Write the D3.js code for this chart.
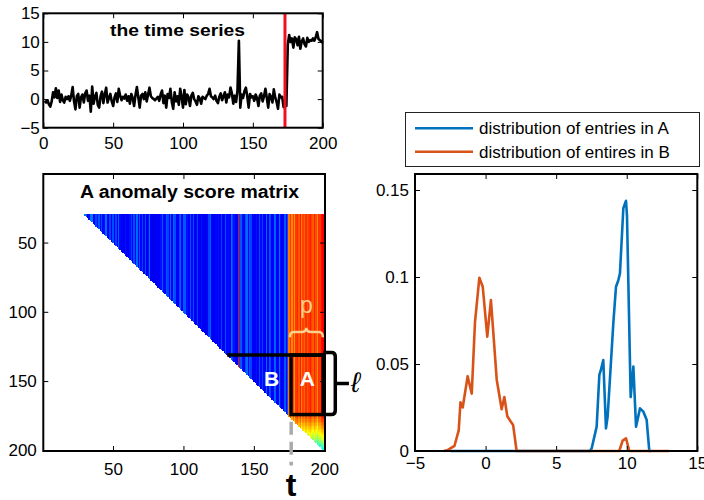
<!DOCTYPE html>
<html><head><meta charset="utf-8">
<script src="https://cdn.jsdelivr.net/npm/d3@7"></script>
<style>
body{margin:0;background:#fff;}
text{font-family:"Liberation Sans",Arial,Helvetica,sans-serif;}
</style></head><body>
<svg id="c" width="704" height="500"></svg>
<script>
// ---------------- data ----------------
const tsValues = [
-0.3,-0.6,-0.2,-0.9,-1.3,-0.4,1.2,0.3,1.9,0.2,
1.5,-0.5,0.8,-0.2,-0.6,0.4,0.0,0.5,-0.3,0.6,
2.1,-0.4,-1.8,0.5,0.9,-1.5,0.3,0.8,-0.6,1.0,
1.5,-0.3,0.6,-2.2,2.2,-0.8,0.4,1.1,-1.0,-1.5,
0.5,1.3,-0.7,0.8,2.0,-0.6,0.2,0.9,-0.4,-1.2,
0.3,1.0,-0.5,1.8,0.6,-0.2,0.4,0.1,0.8,-0.3,
0.5,-0.8,0.9,0.2,-1.2,0.7,2.1,0.3,-1.5,0.6,
0.9,0.0,1.2,-0.4,0.8,2.0,0.5,0.2,0.0,-0.2,
0.1,0.4,-0.3,0.8,1.5,-0.7,0.6,-1.5,0.9,0.2,
1.8,-0.5,-1.7,1.2,-0.4,0.5,-1.0,1.8,0.4,-1.5,
1.6,-0.9,0.8,0.3,-1.2,0.6,1.1,0.0,-0.4,-1.0,
0.5,0.1,-0.8,0.4,0.2,0.0,0.6,0.9,1.8,0.5,
0.3,0.0,0.6,-0.3,-0.7,0.4,1.0,-0.2,0.5,1.2,
-0.6,0.8,0.3,2.0,1.0,-0.8,0.6,-0.5,1.5,10.2,
-1.5,0.8,0.2,1.4,2.0,0.5,-1.5,0.9,0.3,0.5,
-0.3,0.8,0.2,-1.2,0.6,1.0,-0.4,0.5,1.8,0.2,
-1.5,0.9,0.4,-0.6,1.7,0.3,-0.5,-1.7,0.8,0.3,
0.4,-1.4,-0.8,-1.2,9.5,11.2,10.0,10.6,9.0,10.8,
10.5,9.4,10.9,8.8,10.1,10.6,9.6,9.2,10.7,10.0,
10.3,10.2,10.6,10.2,10.8,11.7,10.5,10.3,10.1,9.8
];
const changePoint = 173;
const topXTicks = [0,50,100,150,200];
const topYTicks = [-5,0,5,10,15];

// anomaly score per column (jet colormap position), rows 30..200, upper triangle
const columnScore = [
.14,.12,.19,.13,.22,.12,.20,.13,.23,.12,
.21,.12,.14,.12,.13,.12,.11,.12,.12,.13,
.23,.12,.22,.13,.14,.21,.12,.14,.12,.24,
.21,.12,.13,.24,.24,.13,.12,.19,.14,.21,
.12,.20,.13,.14,.23,.13,.11,.19,.12,.20,
.12,.19,.12,.22,.13,.11,.12,.11,.14,.12,
.12,.14,.19,.11,.20,.13,.23,.12,.21,.13,
.19,.11,.20,.12,.14,.23,.12,.11,.11,.11,
.11,.12,.12,.14,.21,.13,.13,.21,.19,.11,
.22,.12,.22,.20,.12,.12,.19,.22,.12,.21,
.21,.14,.14,.12,.20,.13,.20,.11,.12,.19,
.12,.11,.14,.12,.11,.11,.13,.19,.22,.12,
.12,.11,.13,.12,.14,.12,.19,.11,.12,.20,
.13,.14,.12,.23,.19,.14,.13,.12,.21,.90,
.21,.14,.11,.20,.23,.12,.21,.19,.12,.12,
.12,.14,.11,.20,.13,.19,.12,.12,.22,.11,
.21,.19,.12,.13,.22,.12,.12,.23,.14,.12,
.12,.21,.12,.20,.76,.82,.74,.81,.73,.82,
.84,.79,.85,.75,.81,.78,.83,.79,.82,.85,
.81,.79,.84,.80,.74,.83,.82,.86,.88,.90
];
const firstRow = 30;
const fadeStartRow = 175;
// score scaling for rows 175..200 (reference window contains the shifted data)
const rowFade = [.98,.96,.95,.93,.92,.90,.88,.86,.85,.83,.81,.79,.77,.75,.73,.71,.68,.66,.63,.60,.57,.54,.51,.48,.45,.42];
const heatTicks = [50,100,150,200];

const distAx = [-2.5,7.4,7.52,7.87,8.06,8.15,8.34,8.53,8.65,9.05,9.24,9.4,9.52,9.76,9.95,10.02,10.28,10.47,10.66,10.94,11.18,11.41,11.6,11.7];
const distAy = [0,0,0.0016,0.014,0.0437,0.046,0.0523,0.013,0.02,0.0734,0.0944,0.098,0.102,0.1395,0.1438,0.135,0.031,0.0485,0.014,0.0245,0.0226,0.018,0,0];
const distBx = [-2.95,-2.67,-2.2,-1.9,-1.78,-1.62,-1.27,-0.98,-0.75,-0.44,-0.2,0.12,0.38,0.79,1.14,1.33,1.54,1.78,1.95,2.2,9.47,9.71,9.95,10.18,13.0];
const distBy = [0,0.0006,0.003,0.012,0.028,0.025,0.043,0.033,0.074,0.0996,0.0944,0.0657,0.0868,0.041,0.024,0.031,0.02,0.017,0.015,0,0,0.006,0.0073,0,0];
const distXTicks = [-5,0,5,10,15];
const distYTicks = [0,0.05,0.1,0.15];
const legendLabels = ["distribution of entries in A","distribution of entires in B"];
const colA = "#0072BD", colB = "#D95319";

// annotation anchors (data units of the score matrix)
const tMark = 176.5, boxCol0 = 176.4, boxCol1 = 199.2, boxRow0 = 131.2, boxRow1 = 174.2, diagCol = 131;

// ---------------- drawing ----------------
const svg = d3.select("#c");
const FS = 17;

function frame(g, x, y, xt, yt, fx, fy, padX, padY){
  const xb = d3.axisBottom(x).tickValues(xt).tickSize(-5).tickSizeOuter(0).tickPadding(padX).tickFormat(fx);
  const xtp = d3.axisTop(x).tickValues(xt).tickSize(-5).tickSizeOuter(0).tickFormat("");
  const yl = d3.axisLeft(y).tickValues(yt).tickSize(-5).tickSizeOuter(0).tickPadding(padY).tickFormat(fy);
  const yr = d3.axisRight(y).tickValues(yt).tickSize(-5).tickSizeOuter(0).tickFormat("");
  const x0 = d3.min(x.range()), x1 = d3.max(x.range());
  const yTop = d3.min(y.range()), yBot = d3.max(y.range());
  const add = (ax, tr) => {
    const a = g.append("g").attr("transform", tr).call(ax);
    a.select(".domain").remove();
    a.selectAll("line").attr("stroke","#000").attr("stroke-width",1);
    a.selectAll("text").attr("font-size",FS).attr("fill","#000");
    return a;
  };
  add(xb, `translate(0,${yBot})`);
  add(xtp, `translate(0,${yTop})`);
  add(yl, `translate(${x0},0)`);
  add(yr, `translate(${x1},0)`);
  g.append("rect").attr("x",x0).attr("y",yTop).attr("width",x1-x0).attr("height",yBot-yTop)
    .attr("fill","none").attr("stroke","#000").attr("stroke-width",2);
}

// ---- top: time series ----
const xT = d3.scaleLinear([0,200],[43.3,322.7]);
const yT = d3.scaleLinear([-5,15],[127.7,13.3]);
const gT = svg.append("g");
gT.append("path").datum(tsValues)
  .attr("d", d3.line().x((d,i)=>xT(i+1)).y(d=>yT(d)))
  .attr("fill","none").attr("stroke","#000").attr("stroke-width",2.6).attr("stroke-linejoin","round");
gT.append("line").attr("x1",xT(changePoint)).attr("x2",xT(changePoint))
  .attr("y1",yT(15)).attr("y2",yT(-5)).attr("stroke","#f01020").attr("stroke-width",3);
frame(gT, xT, yT, topXTicks, topYTicks, d3.format("d"), d3.format("d"), 9, 3.5);
gT.append("text").attr("x",177.5).attr("y",36).attr("text-anchor","middle")
  .attr("font-size",16.5).attr("font-weight","bold").attr("textLength",135).attr("lengthAdjust","spacingAndGlyphs")
  .text("the time series");

// ---- bottom-left: anomaly score matrix ----
const xH = d3.scaleLinear([0.5,200.5],[43.3,325]);
const yH = d3.scaleLinear([0.5,200.5],[174,451]);
const jet = d3.scaleLinear().domain([0,0.125,0.375,0.625,0.875,1])
  .range(["#00007f","#0000ff","#00ffff","#ffff00","#ff0000","#7f0000"]).clamp(true);
const gH = svg.append("g");
const cols = d3.range(firstRow, 201);
gH.selectAll("rect.col").data(cols).join("rect").attr("class","col")
  .attr("x", j => xH(j-0.5)).attr("width", j => xH(j+0.5)-xH(j-0.5)+0.45)
  .attr("y", yH(firstRow-0.5))
  .attr("height", j => yH(Math.min(j, fadeStartRow-1)+0.5) - yH(firstRow-0.5))
  .attr("fill", j => jet(columnScore[j-1]))
  .attr("shape-rendering","crispEdges");
const fadeCells = [];
for (let i = fadeStartRow; i <= 200; i++)
  for (let j = i; j <= 200; j++) fadeCells.push({i, j});
gH.selectAll("rect.fc").data(fadeCells).join("rect").attr("class","fc")
  .attr("x", d => xH(d.j-0.5)).attr("width", d => xH(d.j+0.5)-xH(d.j-0.5)+0.45)
  .attr("y", d => yH(d.i-0.5)).attr("height", d => yH(d.i+0.5)-yH(d.i-0.5)+0.45)
  .attr("fill", d => jet(columnScore[d.j-1]*rowFade[d.i-fadeStartRow]))
  .attr("shape-rendering","crispEdges");
frame(gH, xH, yH, heatTicks, heatTicks, d3.format("d"), d3.format("d"), 12, 6.5);
gH.append("text").attr("x",189.5).attr("y",197.5).attr("text-anchor","middle")
  .attr("font-size",18).attr("font-weight","bold").attr("textLength",219).attr("lengthAdjust","spacingAndGlyphs")
  .text("A anomaly score matrix");

// annotations
const ann = svg.append("g");
ann.append("line").attr("x1",xH(tMark)).attr("x2",xH(tMark)).attr("y1",yH(165)).attr("y2",yH(211))
  .attr("stroke","#aaa").attr("stroke-width",3.5).attr("stroke-dasharray","13,7");
ann.append("rect").attr("x",xH(boxCol0)).attr("y",yH(boxRow0))
  .attr("width",xH(boxCol1)-xH(boxCol0)).attr("height",yH(boxRow1)-yH(boxRow0))
  .attr("fill","none").attr("stroke","#000").attr("stroke-width",3.5);
ann.append("line").attr("x1",xH(diagCol)).attr("x2",xH(boxCol1)).attr("y1",yH(boxRow0)).attr("y2",yH(boxRow0))
  .attr("stroke","#000").attr("stroke-width",3.5);
// bracket for l
{
  const bx0 = xH(boxCol1), bx1 = xH(207.8), bx2 = xH(217.5);
  const by0 = yH(129.3), by1 = yH(boxRow1), bym = (by0+by1)/2, r = 4;
  ann.append("path").attr("d",
    `M${bx0},${by0}H${bx1-r}Q${bx1},${by0} ${bx1},${by0+r}V${by1-r}Q${bx1},${by1} ${bx1-r},${by1}H${bx0}M${bx1},${bym}H${bx2}`)
    .attr("fill","none").attr("stroke","#000").attr("stroke-width",3.5);
  ann.append("text").attr("x",xH(219)).attr("y",bym+9).attr("font-size",28)
    .attr("font-family","'DejaVu Serif',serif").attr("font-style","italic").text("ℓ");
}
// brace for p
{
  const px0 = xH(175.5), px1 = xH(199), pm = (px0+px1)/2;
  const py0 = yH(118.3), py1 = yH(114.5), py2 = yH(111.6);
  ann.append("path").attr("d",
    `M${px0},${py0}Q${px0},${py1} ${px0+4},${py1}H${pm-4}Q${pm},${py1} ${pm},${py2}Q${pm},${py1} ${pm+4},${py1}H${px1-4}Q${px1},${py1} ${px1},${py0}`)
    .attr("fill","none").attr("stroke","#f9d08e").attr("stroke-width",2.5);
  ann.append("text").attr("x",pm).attr("y",yH(101)).attr("text-anchor","middle")
    .attr("font-size",23).attr("fill","#f9d08e").text("p");
}
ann.append("text").attr("x",xH(162.5)).attr("y",yH(153.5)).attr("text-anchor","middle")
  .attr("font-size",21).attr("font-weight","bold").attr("fill","#fff").text("B");
ann.append("text").attr("x",xH(188)).attr("y",yH(153.5)).attr("text-anchor","middle")
  .attr("font-size",21).attr("font-weight","bold").attr("fill","#fff").text("A");
ann.append("text").attr("x",xH(tMark)).attr("y",yH(232.8)).attr("text-anchor","middle")
  .attr("font-size",32).attr("font-weight","bold").text("t");

// ---- right: distributions ----
const xR = d3.scaleLinear([-5,15],[415,697.3]);
const yR = d3.scaleLinear([0,0.1592],[451,174]);
const gR = svg.append("g");
const lineR = d3.line().x(d=>xR(d[0])).y(d=>yR(d[1]));
gR.append("path").datum(d3.zip(distAx,distAy)).attr("d",lineR)
  .attr("fill","none").attr("stroke",colA).attr("stroke-width",2.6).attr("stroke-linejoin","round");
gR.append("path").datum(d3.zip(distBx,distBy)).attr("d",lineR)
  .attr("fill","none").attr("stroke",colB).attr("stroke-width",2.6).attr("stroke-linejoin","round");
frame(gR, xR, yR, distXTicks, distYTicks, d3.format("d"), d => d===0 ? "0" : String(+d.toFixed(2)), 6, 6);

// legend
const lg = svg.append("g");
lg.append("rect").attr("x",405.5).attr("y",112.5).attr("width",294).attr("height",54)
  .attr("fill","#fff").attr("stroke","#222").attr("stroke-width",1);
[colA,colB].forEach((c,k)=>{
  const yy = 128.3 + k*23.4;
  lg.append("line").attr("x1",415).attr("x2",473).attr("y1",yy).attr("y2",yy)
    .attr("stroke",c).attr("stroke-width",2.6);
  lg.append("text").attr("x",479).attr("y",yy+6).attr("font-size",17).text(legendLabels[k]);
});
</script>
</body></html>
